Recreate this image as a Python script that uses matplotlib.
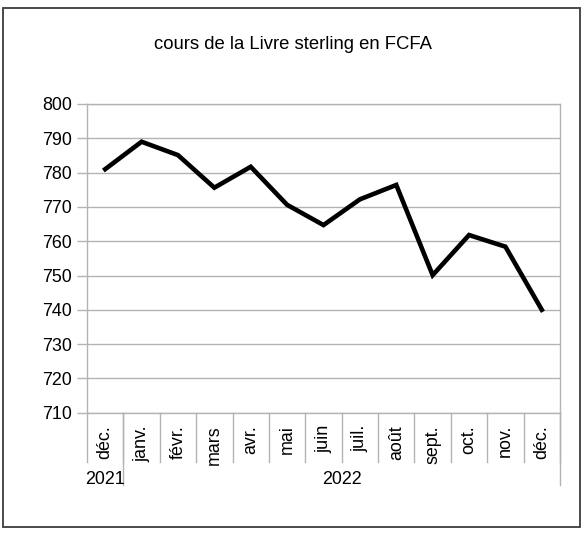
import matplotlib
matplotlib.use('Agg')
import matplotlib.pyplot as plt
from matplotlib.patches import Rectangle

plt.rcParams['font.family'] = ['Liberation Sans', 'DejaVu Sans']

months = ['déc.', 'janv.', 'févr.', 'mars', 'avr.', 'mai', 'juin',
          'juil.', 'août', 'sept.', 'oct.', 'nov.', 'déc.']
years = ['2021', '2022']
year_counts = [1, 12]
rate = [781.0, 789.0, 785.1, 775.6, 781.7, 770.6, 764.7,
        772.2, 776.4, 750.1, 761.8, 758.4, 740.0]
yticks = [710, 720, 730, 740, 750, 760, 770, 780, 790, 800]

fsize = 12.9
grey = '#b3b3b3'

fig = plt.figure(figsize=(5.87, 5.33), dpi=100)
ax = fig.add_axes([87/587, 1-412.7/533, (560-87)/587, (412.7-104)/533])

x = list(range(len(rate)))
ax.plot(x, rate, color='black', lw=3.3, solid_joinstyle='miter', zorder=3)

ax.set_xlim(-0.5, len(rate)-0.5)
ax.set_ylim(710, 800)
ax.set_yticks(yticks)
ax.set_yticklabels([str(v) for v in yticks], fontsize=fsize)
ax.tick_params(axis='y', length=7, width=1, color=grey, pad=4)
ax.set_xticks([])
ax.grid(axis='y', color=grey, lw=1)
ax.set_axisbelow(True)
for s in ax.spines.values():
    s.set_color(grey)
    s.set_linewidth(1)

# category separators and labels below the axis
trans = ax.get_xaxis_transform()
h = 412.7 - 104
month_sep = -(462 - 412.7) / h
year_sep = -(485 - 412.7) / h
for i in range(len(months) + 1):
    ax.plot([i-0.5, i-0.5], [0, month_sep], color=grey, lw=1,
            transform=trans, clip_on=False)
for i, m in enumerate(months):
    ax.text(i, -(425 - 412.7) / h, m, rotation=90, ha='center', va='top',
            fontsize=fsize, transform=trans)

start = 0
for yr, n in zip(years, year_counts):
    end = start + n
    ax.plot([end-0.5, end-0.5], [0, year_sep], color=grey, lw=1,
            transform=trans, clip_on=False)
    ax.text((start + end - 1) / 2, -(480 - 412.7) / h, yr, ha='center',
            va='center', fontsize=fsize, transform=trans)
    start = end

fig.text(0.5, 1-45/533, 'cours de la Livre sterling en FCFA',
         ha='center', va='center', fontsize=13.3)

fig.patches.append(Rectangle((3/587, 1-527/533), 577/587, 519/533,
                             transform=fig.transFigure, fill=False,
                             edgecolor='#3c3c3c', lw=1.3))

fig.savefig('out.png', dpi=100)
